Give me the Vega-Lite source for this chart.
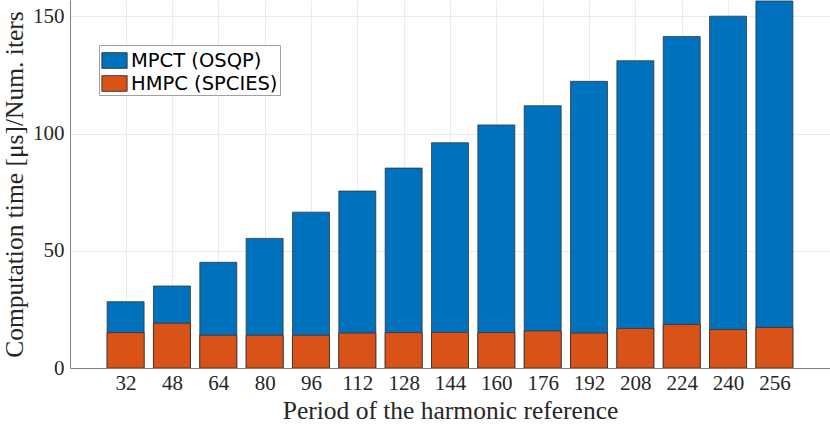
{
  "$schema": "https://vega.github.io/schema/vega-lite/v6.json",
  "width": 760,
  "height": 368,
  "autosize": "none",
  "padding": {"left": 70, "top": 0, "right": 0, "bottom": 62},
  "background": "white",
  "config": {
    "view": {"stroke": null},
    "axis": {
      "labelFont": "Liberation Serif",
      "titleFont": "Liberation Serif",
      "labelColor": "#262626",
      "titleColor": "#262626",
      "domainColor": "#808080",
      "gridColor": "#ebebeb",
      "ticks": false
    }
  },
  "data": {
    "values": [
      {"period": 32, "series": "MPCT (OSQP)", "time": 28.3},
      {"period": 48, "series": "MPCT (OSQP)", "time": 35.0},
      {"period": 64, "series": "MPCT (OSQP)", "time": 45.1},
      {"period": 80, "series": "MPCT (OSQP)", "time": 55.3},
      {"period": 96, "series": "MPCT (OSQP)", "time": 66.5},
      {"period": 112, "series": "MPCT (OSQP)", "time": 75.5},
      {"period": 128, "series": "MPCT (OSQP)", "time": 85.3},
      {"period": 144, "series": "MPCT (OSQP)", "time": 96.1},
      {"period": 160, "series": "MPCT (OSQP)", "time": 103.7},
      {"period": 176, "series": "MPCT (OSQP)", "time": 111.9},
      {"period": 192, "series": "MPCT (OSQP)", "time": 122.3},
      {"period": 208, "series": "MPCT (OSQP)", "time": 131.1},
      {"period": 224, "series": "MPCT (OSQP)", "time": 141.4},
      {"period": 240, "series": "MPCT (OSQP)", "time": 150.1},
      {"period": 256, "series": "MPCT (OSQP)", "time": 156.6},
      {"period": 32, "series": "HMPC (SPCIES)", "time": 15.1},
      {"period": 48, "series": "HMPC (SPCIES)", "time": 19.1},
      {"period": 64, "series": "HMPC (SPCIES)", "time": 14.0},
      {"period": 80, "series": "HMPC (SPCIES)", "time": 14.0},
      {"period": 96, "series": "HMPC (SPCIES)", "time": 14.0},
      {"period": 112, "series": "HMPC (SPCIES)", "time": 14.9},
      {"period": 128, "series": "HMPC (SPCIES)", "time": 15.1},
      {"period": 144, "series": "HMPC (SPCIES)", "time": 15.2},
      {"period": 160, "series": "HMPC (SPCIES)", "time": 15.1},
      {"period": 176, "series": "HMPC (SPCIES)", "time": 15.8},
      {"period": 192, "series": "HMPC (SPCIES)", "time": 14.9},
      {"period": 208, "series": "HMPC (SPCIES)", "time": 16.9},
      {"period": 224, "series": "HMPC (SPCIES)", "time": 18.6},
      {"period": 240, "series": "HMPC (SPCIES)", "time": 16.4},
      {"period": 256, "series": "HMPC (SPCIES)", "time": 17.3}
    ]
  },
  "mark": {"type": "bar", "size": 37, "stroke": "#2a2a2a", "strokeWidth": 0.7, "clip": true},
  "encoding": {
    "x": {
      "field": "period",
      "type": "quantitative",
      "scale": {"domain": [12.8, 275.2], "nice": false, "zero": false, "padding": 0},
      "axis": {
        "values": [32, 48, 64, 80, 96, 112, 128, 144, 160, 176, 192, 208, 224, 240, 256],
        "format": "d",
        "title": "Period of the harmonic reference",
        "labelFontSize": 21,
        "titleFontSize": 25.5,
        "titleFontWeight": "normal",
        "labelPadding": 4,
        "titlePadding": 5,
        "grid": true
      }
    },
    "y": {
      "field": "time",
      "type": "quantitative",
      "stack": null,
      "scale": {"domain": [0, 157], "nice": false},
      "axis": {
        "values": [0, 50, 100, 150],
        "title": "Computation time [μs]/Num. iters",
        "labelFontSize": 21,
        "titleFontSize": 25.5,
        "titleFontWeight": "normal",
        "labelPadding": 6,
        "titlePadding": 5,
        "grid": true
      }
    },
    "color": {
      "field": "series",
      "type": "nominal",
      "sort": ["MPCT (OSQP)", "HMPC (SPCIES)"],
      "scale": {"domain": ["MPCT (OSQP)", "HMPC (SPCIES)"], "range": ["#0072BD", "#D95319"]},
      "legend": {
        "title": null,
        "orient": "none",
        "legendX": 29,
        "legendY": 45,
        "symbolType": "M-1,-0.62L1,-0.62L1,0.62L-1,0.62Z",
        "symbolSize": 640,
        "symbolStrokeColor": "#222222",
        "symbolStrokeWidth": 0.8,
        "symbolOpacity": 1,
        "labelFont": "DejaVu Sans",
        "labelFontSize": 19.5,
        "labelColor": "#000000",
        "labelOffset": 3,
        "rowPadding": 0,
        "padding": 2,
        "strokeColor": "#a0a0a0",
        "fillColor": "white"
      }
    }
  }
}
